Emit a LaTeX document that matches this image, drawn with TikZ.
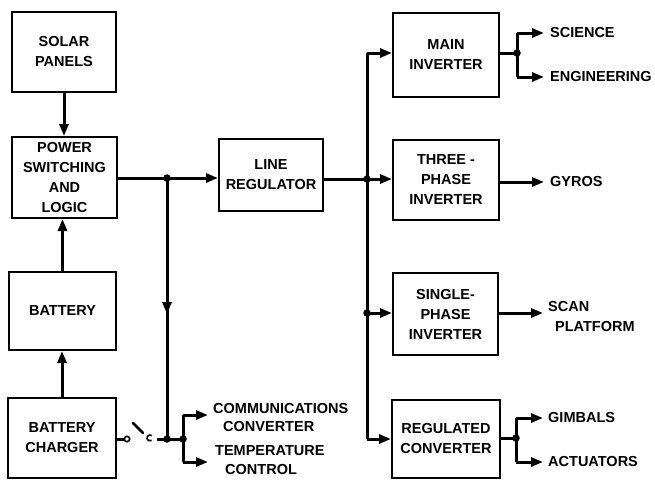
\documentclass[tikz,border=0pt]{standalone}
\usepackage{fontspec}
\setmainfont{Liberation Sans}
\usetikzlibrary{arrows.meta}
\begin{document}
\begin{tikzpicture}[x=1pt,y=-1pt,
 blk/.style={draw, line width=2pt, inner sep=0pt, align=center, font=\fontsize{14.5}{20}\selectfont\bfseries},
 lbl/.style={inner sep=0pt, anchor=west, font=\fontsize{14.5}{16}\selectfont\bfseries},
 wire/.style={line width=3pt},
 arr/.style={wire, -{Triangle[length=12pt,width=9pt]}},
 jdot/.style={circle, fill, inner sep=0pt, minimum size=7.5pt}]
\useasboundingbox (0,0) rectangle (655,479);
% blocks
\node[blk, minimum width=104pt, minimum height=80pt] (solar) at (64,52) {SOLAR\\PANELS};
\node[blk, minimum width=105pt, minimum height=81pt] (psl) at (64.5,177.5) {POWER\\SWITCHING\\AND\\LOGIC};
\node[blk, minimum width=107pt, minimum height=78pt] (batt) at (62.5,311) {BATTERY};
\node[blk, minimum width=108pt, minimum height=80pt] (chg) at (62,438) {BATTERY\\CHARGER};
\node[blk, minimum width=104pt, minimum height=72pt] (lreg) at (271,175) {LINE\\REGULATOR};
\node[blk, minimum width=106pt, minimum height=84pt] (minv) at (446,55) {MAIN\\INVERTER};
\node[blk, minimum width=106pt, minimum height=80pt] (tinv) at (446,180) {THREE -\\PHASE\\INVERTER};
\node[blk, minimum width=105pt, minimum height=82pt] (sinv) at (445.5,314) {SINGLE-\\PHASE\\INVERTER};
\node[blk, minimum width=108pt, minimum height=78pt] (rconv) at (446,439) {REGULATED\\CONVERTER};
% labels
\node[lbl] (sci) at (550,33) {SCIENCE};
\node[lbl] (eng) at (550,77) {ENGINEERING};
\node[lbl] (gyr) at (550,182) {GYROS};
\node[lbl] (scan) at (548,307) {SCAN};
\node[lbl] (plat) at (555,327) {PLATFORM};
\node[lbl] (gim) at (548,418) {GIMBALS};
\node[lbl] (act) at (548,462) {ACTUATORS};
\node[lbl] (comm) at (213,409) {COMMUNICATIONS};
\node[lbl] (cconv) at (223,427) {CONVERTER};
\node[lbl] (temp) at (215,451) {TEMPERATURE};
\node[lbl] (ctrl) at (225,470) {CONTROL};
% left column
\draw[arr] (solar.south) -- (solar.south |- psl.north);
\draw[arr] (batt.north) -- (batt.north |- psl.south);
\draw[arr] (chg.north) -- (chg.north |- batt.south);
% main bus
\coordinate (j1) at (167,178);
\coordinate (j3) at (167,439);
\coordinate (jm) at (167,314);
\draw[wire] (psl.east |- j1) -- (j1);
\draw[arr] (j1) -- (lreg.west |- j1);
\draw[wire] (j1) -- (j3);
\draw[arr] (j1) -- (jm);
\node[jdot] at (j1) {};
\node[jdot] at (j3) {};
% switch
\coordinate (sw1) at (127,439);
\coordinate (bl1) at (133,423);
\coordinate (bl2) at (143,433);
\coordinate (sw2) at (150,438);
\coordinate (sw3) at (157,439);
\draw[wire] (chg.east |- sw1) -- ([xshift=-2.5pt]sw1);
\draw[line width=1.6pt] (sw1) circle (2.7pt);
\draw[line width=2.6pt, line cap=round] (bl1) -- (bl2);
\draw[line width=1.6pt] ([shift={(55:3pt)}]sw2) arc[start angle=55, end angle=305, radius=3pt];
\draw[wire] (sw3) -- (j3);
% comms branch
\coordinate (j4) at (183,439);
\coordinate (j4a) at (183,415);
\coordinate (j4b) at (183,462);
\draw[wire] (j3) -- (j4);
\node[jdot] at (j4) {};
\draw[wire] (j4a) -- (j4b);
\draw[arr] (j4a) -- (208,415);
\draw[arr] (j4b) -- (208,462);
% right bus
\coordinate (j2) at (367,179);
\coordinate (rt) at (367,53);
\coordinate (rs) at (367,313);
\coordinate (rb) at (367,439);
\draw[wire] (lreg.east |- j2) -- (j2);
\draw[wire] (rt) -- (rb);
\node[jdot] at (j2) {};
\node[jdot] at (rs) {};
\draw[arr] (rt) -- (minv.west |- rt);
\draw[arr] (j2) -- (tinv.west |- j2);
\draw[arr] (rs) -- (sinv.west |- rs);
\draw[arr] (rb) -- (rconv.west |- rb);
% outputs
\coordinate (m0) at (517,53);
\draw[wire] (minv.east |- m0) -- (m0);
\node[jdot] at (m0) {};
\draw[wire] (517,33) -- (517,77);
\draw[arr] (517,33) -- ([xshift=-6pt]sci.west);
\draw[arr] (517,77) -- ([xshift=-6pt]eng.west);
\draw[arr] (tinv.east |- gyr) -- ([xshift=-6pt]gyr.west);
\draw[arr] (sinv.east |- rs) -- (543,313);
\coordinate (r0) at (516,438);
\draw[wire] (rconv.east |- r0) -- (r0);
\node[jdot] at (r0) {};
\draw[wire] (516,418) -- (516,462);
\draw[arr] (516,418) -- ([xshift=-5pt]gim.west);
\draw[arr] (516,462) -- ([xshift=-5pt]act.west);
\end{tikzpicture}
\end{document}
